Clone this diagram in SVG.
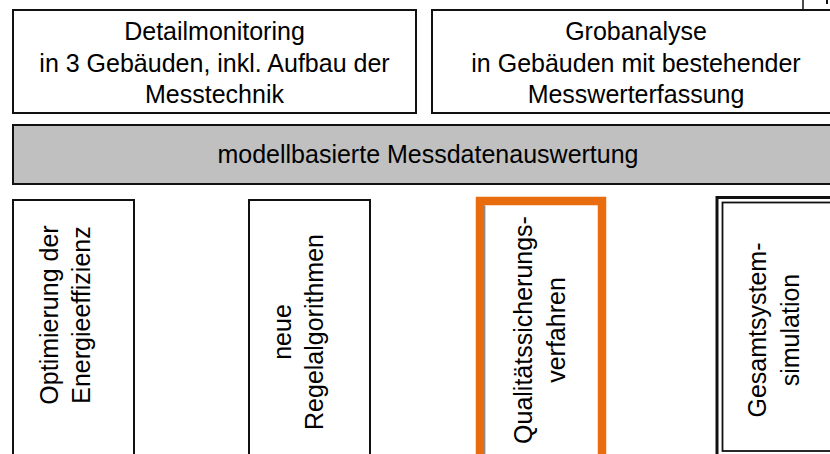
<svg xmlns="http://www.w3.org/2000/svg" width="830" height="454" viewBox="0 0 830 454">
<style>
.box{fill:#fff;stroke:#111;stroke-width:2}
.bar{fill:#c0c0c0;stroke:#111;stroke-width:2}
.t{font-family:"Liberation Sans",Arial,sans-serif;font-size:25px;fill:#000;text-anchor:middle}
</style>
<rect width="830" height="454" fill="#fff"/>
<g id="edge-marks">
<line x1="803" y1="0" x2="803" y2="10" stroke="#111" stroke-width="1.5"/>
<line x1="827" y1="0" x2="827" y2="4" stroke="#111" stroke-width="2"/>
</g>
<g id="detailmonitoring">
<rect class="box" x="13" y="10" width="403" height="103"/>
<text class="t" x="214.5" y="40">Detailmonitoring</text>
<text class="t" x="214.5" y="71.5">in 3 Gebäuden, inkl. Aufbau der</text>
<text class="t" x="214.5" y="103">Messtechnik</text>
</g>
<g id="grobanalyse">
<rect class="box" x="432" y="10" width="410" height="103"/>
<text class="t" x="636" y="40">Grobanalyse</text>
<text class="t" x="636" y="71.5">in Gebäuden mit bestehender</text>
<text class="t" x="636" y="103">Messwerterfassung</text>
</g>
<g id="messdatenauswertung">
<rect class="bar" x="13" y="125" width="830" height="59"/>
<text class="t" x="428" y="163">modellbasierte Messdatenauswertung</text>
</g>
<g id="energieeffizienz">
<rect class="box" x="13" y="200" width="121" height="270"/>
<text class="t" transform="translate(58,315) rotate(-90)">Optimierung der</text>
<text class="t" transform="translate(90,315) rotate(-90)">Energieeffizienz</text>
</g>
<g id="regelalgorithmen">
<rect class="box" x="249" y="200" width="121" height="270"/>
<text class="t" transform="translate(291,332) rotate(-90)">neue</text>
<text class="t" transform="translate(323,332) rotate(-90)">Regelalgorithmen</text>
</g>
<g id="qualitaetssicherung">
<rect x="480" y="201" width="122" height="270" fill="#fff" stroke="#E96C0E" stroke-width="8.5"/>
<line x1="484.8" y1="205.5" x2="484.8" y2="454" stroke="#666" stroke-width="1"/>
<text class="t" transform="translate(532,330) rotate(-90)">Qualitätssicherungs-</text>
<text class="t" transform="translate(565,330) rotate(-90)">verfahren</text>
</g>
<g id="gesamtsystemsimulation">
<rect x="717" y="197.5" width="130" height="270" fill="#fff" stroke="#111" stroke-width="3"/>
<rect x="722.5" y="202.5" width="120" height="248.5" fill="none" stroke="#111" stroke-width="1.8"/>
<text class="t" transform="translate(766,330) rotate(-90)">Gesamtsystem-</text>
<text class="t" transform="translate(799,330) rotate(-90)">simulation</text>
</g>
</svg>
